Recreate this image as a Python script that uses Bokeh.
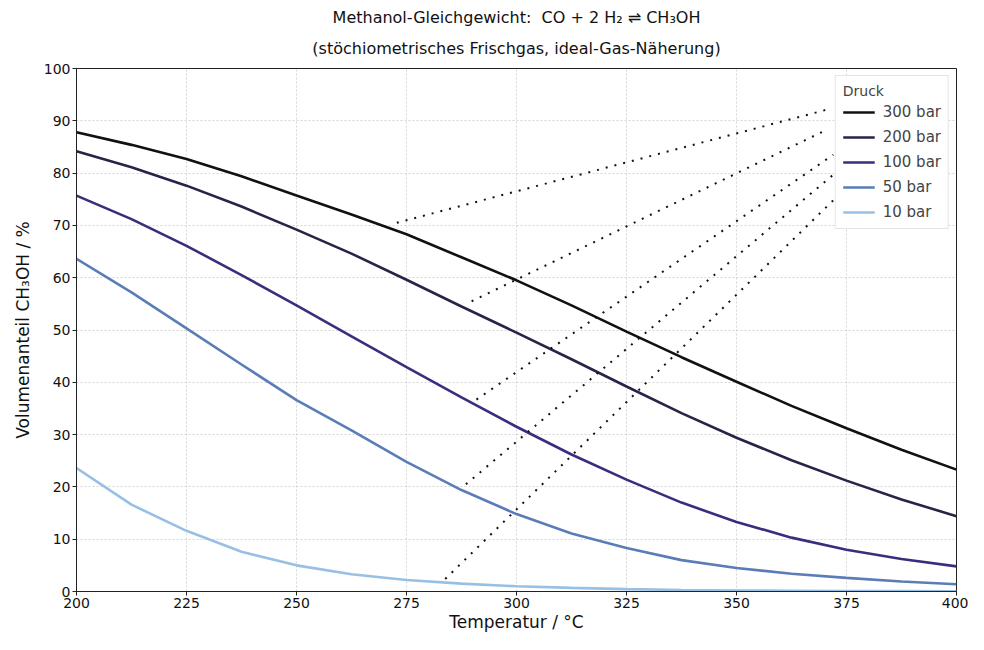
from bokeh.plotting import figure
from bokeh.models import Title, Legend, LegendItem, FixedTicker
from bokeh.embed import file_html
from bokeh.resources import INLINE

# ---- data ----
temps = [200, 212.5, 225, 237.5, 250, 262.5, 275, 287.5, 300, 312.5, 325,
         337.5, 350, 362.5, 375, 387.5, 400]
p300 = [87.8, 85.4, 82.7, 79.4, 75.7, 72.1, 68.3, 63.9, 59.5, 54.7, 49.7,
        44.8, 40.1, 35.5, 31.2, 27.1, 23.3]
p200 = [84.2, 81.1, 77.6, 73.6, 69.2, 64.6, 59.6, 54.5, 49.5, 44.4, 39.2,
        34.1, 29.4, 25.1, 21.2, 17.6, 14.4]
p100 = [75.7, 71.2, 66.1, 60.5, 54.7, 48.8, 42.9, 37.1, 31.5, 26.2, 21.4,
        17.0, 13.3, 10.3, 8.0, 6.2, 4.8]
p50 = [63.6, 57.2, 50.3, 43.4, 36.6, 30.8, 24.8, 19.4, 14.8, 11.1, 8.3,
       6.0, 4.5, 3.4, 2.6, 1.9, 1.4]
p10 = [23.6, 16.6, 11.6, 7.6, 5.0, 3.3, 2.2, 1.5, 1.0, 0.7, 0.45,
       0.3, 0.2, 0.15, 0.1, 0.07, 0.05]

series_labels = ["300 bar", "200 bar", "100 bar", "50 bar", "10 bar"]
series_values = [p300, p200, p100, p50, p10]
series_colors = ["#111111", "#2a2348", "#3b2d7e", "#5a7db8", "#98bfe4"]

# dotted leader lines: curve point -> legend entry
lead_x0 = [272.8, 289.8, 290.9, 288.5, 283.8]
lead_y0 = [70.5, 55.5, 36.7, 20.5, 2.4]
lead_x1 = [370.4, 369.8, 372.0, 372.0, 372.0]
lead_y1 = [92.1, 88.0, 83.5, 79.7, 74.8]

x_ticks = [200, 225, 250, 275, 300, 325, 350, 375, 400]
y_ticks = [0, 10, 20, 30, 40, 50, 60, 70, 80, 90, 100]

FONT = "DejaVu Sans"

p = figure(width=968, height=634, x_range=(200, 400), y_range=(0, 100),
           output_backend="svg", toolbar_location=None,
           min_border_left=76, min_border_right=12,
           min_border_top=68, min_border_bottom=40)
p.title = None

# titles (added bottom-up)
t2 = Title(text="(stöchiometrisches Frischgas, ideal-Gas-Näherung)",
           align="center", vertical_align="top",
           text_font=FONT, text_font_size="16px",
           text_font_style="normal", text_color="#111111",
           standoff=17, offset=0)
t1 = Title(text="Methanol-Gleichgewicht:\u00a0 CO + 2 H₂ ⇌ CH₃OH",
           align="center", vertical_align="top",
           text_font=FONT, text_font_size="16px",
           text_font_style="normal", text_color="#111111",
           standoff=3, offset=0)
p.add_layout(t2, "above")
p.add_layout(t1, "above")

# grid
for g in (p.xgrid, p.ygrid):
    g.grid_line_color = "#cccccc"
    g.grid_line_dash = "2 2"
    g.grid_line_width = 0.8

# axes
p.xaxis.ticker = FixedTicker(ticks=x_ticks)
p.yaxis.ticker = FixedTicker(ticks=y_ticks)
for ax in (p.xaxis, p.yaxis):
    ax.axis_line_color = "#222222"
    ax.major_tick_line_color = "#222222"
    ax.major_tick_out = 4
    ax.major_tick_in = 0
    ax.minor_tick_line_color = None
    ax.major_label_text_font = FONT
    ax.major_label_text_font_size = "14px"
    ax.major_label_text_color = "#111111"
    ax.axis_label_text_font = FONT
    ax.axis_label_text_font_size = "17px"
    ax.axis_label_text_font_style = "normal"
    ax.axis_label_text_color = "#111111"
    ax.major_label_standoff = 2
    ax.axis_label_standoff = 1
p.yaxis.axis_label_standoff = 8
p.xaxis.axis_label = "Temperatur / °C"
p.yaxis.axis_label = "Volumenanteil CH₃OH / %"
p.outline_line_color = "#222222"
p.outline_line_width = 1

# curves
items = []
for lab, vals, col in zip(series_labels, series_values, series_colors):
    r = p.line(temps, vals, line_color=col, line_width=2.6)
    items.append(LegendItem(label=lab, renderers=[r]))

# leader lines
p.segment(x0=lead_x0, y0=lead_y0, x1=lead_x1, y1=lead_y1,
          line_color="#111111", line_width=2, line_dash="2 7")

legend = Legend(items=items, location="top_right", title="Druck")
legend.title_text_font = FONT
legend.title_text_font_size = "14px"
legend.title_text_font_style = "normal"
legend.title_standoff = 4
legend.label_text_font = FONT
legend.label_text_font_size = "15px"
legend.glyph_width = 32
legend.glyph_height = 16
legend.label_height = 16
legend.label_standoff = 8
legend.spacing = 7
legend.padding = 7
legend.margin = 7
legend.border_line_color = "#cccccc"
legend.background_fill_alpha = 0.9
p.add_layout(legend)

open("out.html", "w").write(file_html(p, INLINE))
